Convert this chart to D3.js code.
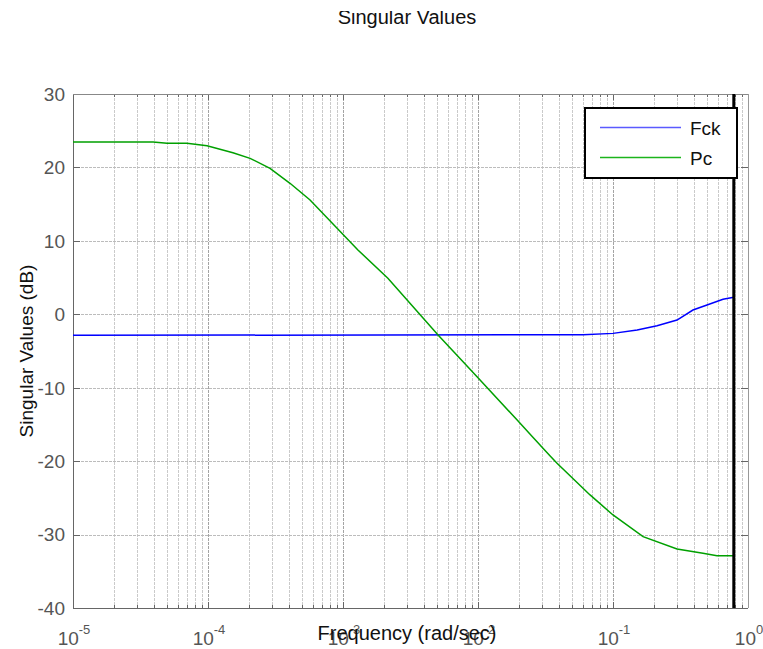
<!DOCTYPE html>
<html>
<head>
<meta charset="utf-8">
<script src="https://cdn.jsdelivr.net/npm/d3@7"></script>
<style>
  body { margin: 0; background: #fff; }
  text { font-family: "Liberation Sans", Arial, sans-serif; }
</style>
</head>
<body>
<svg id="chart" width="763" height="649"></svg>
<script>
// series (frequency in rad/sec, value in dB)
const fckFreq = [1e-5, 0.06, 0.1, 0.151, 0.212, 0.298, 0.391, 0.497, 0.653, 0.785];
const fckDb = [-2.87, -2.78, -2.6, -2.14, -1.55, -0.78, 0.58, 1.27, 2.04, 2.31];

const pcFreq = [1e-5, 3.92e-5, 4.97e-5, 6.98e-5, 9.84e-5, 1.53e-4, 2.05e-4, 2.88e-4, 4.05e-4, 5.7e-4,
    1.29e-3, 2.15e-3, 5.06e-3, 9.84e-3, 1.95e-2, 2.55e-2, 3.41e-2, 3.85e-2, 6.76e-2, 0.1, 0.167, 0.298, 0.464, 0.589, 0.785];
const pcDb = [23.46, 23.46, 23.29, 23.29, 22.96, 22.0, 21.24, 19.88, 17.84, 15.56,
    8.76, 4.9, -2.82, -8.5, -14.4, -16.75, -19.25, -20.3, -24.6, -27.33, -30.29, -31.96, -32.55, -32.87, -32.87];

const seriesNames = ['Fck', 'Pc'];
const seriesColors = ['#0000ff', '#00a000'];
const legendColors = ['#5a5aff', '#1cb41c'];

const yTicks = [30, 20, 10, 0, -10, -20, -30, -40];
const xDecades = [-5, -4, -3, -2, -1, 0];
const nyquist = 0.785;

const margin = { left: 73, top: 94, right: 15, bottom: 41 };
const W = 763, H = 649;
const iw = W - margin.left - margin.right;
const ih = H - margin.top - margin.bottom;

const svg = d3.select('#chart');

const x = d3.scaleLog().domain([1e-5, 1]).range([0, iw]);
const y = d3.scaleLinear().domain([-40, 30]).range([ih, 0]);

// title, clipped at the top like the original
svg.append('clipPath').attr('id', 'titleclip')
    .append('rect').attr('x', 0).attr('y', 11).attr('width', W).attr('height', 40);
svg.append('text').attr('x', 407).attr('y', 24).attr('text-anchor', 'middle')
    .attr('clip-path', 'url(#titleclip)')
    .style('font-size', '20px').attr('fill', '#111').text('Singular Values');

const g = svg.append('g').attr('transform', `translate(${margin.left},${margin.top})`);

// grid
let minors = [];
xDecades.forEach(k => {
    for (let m = 1; m <= 9; m++) {
        const v = m * Math.pow(10, k);
        if (v <= 1) minors.push({ v: v, major: m === 1 });
    }
});

g.selectAll('.vgrid').data(minors).enter().append('line')
    .attr('class', 'vgrid')
    .attr('x1', d => Math.round(x(d.v)) + 0.5).attr('x2', d => Math.round(x(d.v)) + 0.5)
    .attr('y1', 0).attr('y2', ih)
    .attr('stroke', d => d.major ? '#a4a4a4' : '#cacaca')
    .attr('stroke-width', 1)
    .attr('stroke-dasharray', '3,1');

g.selectAll('.hgrid').data(yTicks).enter().append('line')
    .attr('class', 'hgrid')
    .attr('x1', 0).attr('x2', iw)
    .attr('y1', d => Math.round(y(d)) + 0.5).attr('y2', d => Math.round(y(d)) + 0.5)
    .attr('stroke', '#bcbcbc').attr('stroke-dasharray', '3,1');

// ticks (inward, top and bottom / left and right)
const tickLen = d => d.major ? 6 : 3;
g.selectAll('.xtb').data(minors).enter().append('line')
    .attr('x1', d => Math.round(x(d.v)) + 0.5).attr('x2', d => Math.round(x(d.v)) + 0.5)
    .attr('y1', ih).attr('y2', d => ih - tickLen(d))
    .attr('stroke', '#666');
g.selectAll('.xtt').data(minors).enter().append('line')
    .attr('x1', d => Math.round(x(d.v)) + 0.5).attr('x2', d => Math.round(x(d.v)) + 0.5)
    .attr('y1', 0).attr('y2', d => tickLen(d))
    .attr('stroke', '#666');
g.selectAll('.ytl').data(yTicks).enter().append('line')
    .attr('x1', 0).attr('x2', 7)
    .attr('y1', d => Math.round(y(d)) + 0.5).attr('y2', d => Math.round(y(d)) + 0.5)
    .attr('stroke', '#666');
g.selectAll('.ytr').data(yTicks).enter().append('line')
    .attr('x1', iw).attr('x2', iw - 7)
    .attr('y1', d => Math.round(y(d)) + 0.5).attr('y2', d => Math.round(y(d)) + 0.5)
    .attr('stroke', '#666');

// axes box
g.append('line').attr('x1', 0.5).attr('x2', 0.5).attr('y1', 0).attr('y2', ih).attr('stroke', '#666');
g.append('line').attr('x1', 0).attr('x2', iw).attr('y1', ih + 0.5).attr('y2', ih + 0.5).attr('stroke', '#666');
g.append('line').attr('x1', 0).attr('x2', iw).attr('y1', 0.5).attr('y2', 0.5).attr('stroke', '#888');
g.append('line').attr('x1', iw + 0.5).attr('x2', iw + 0.5).attr('y1', 0).attr('y2', ih).attr('stroke', '#999');

// tick labels
g.selectAll('.ylab').data(yTicks).enter().append('text')
    .attr('x', -8).attr('y', d => y(d)).attr('dy', '0.36em')
    .attr('text-anchor', 'end').style('font-size', '19px').attr('fill', '#555')
    .text(d => d);

const xl = g.selectAll('.xlab').data(xDecades).enter().append('text')
    .attr('x', d => x(Math.pow(10, d)) + 1).attr('y', ih + 37)
    .attr('text-anchor', 'middle').style('font-size', '19px').attr('fill', '#555');
xl.append('tspan').text('10');
xl.append('tspan').attr('dy', -11).style('font-size', '13px').text(d => d);

// axis labels
svg.append('text').attr('x', 407).attr('y', 640).attr('text-anchor', 'middle')
    .style('font-size', '20px').attr('fill', '#111').text('Frequency (rad/sec)');
svg.append('text').attr('transform', 'translate(33,351) rotate(-90)')
    .attr('text-anchor', 'middle').style('font-size', '19px').attr('fill', '#111')
    .text('Singular Values (dB)');

// curves
const line = d3.line().x(d => x(d[0])).y(d => y(d[1]));
const series = [d3.zip(fckFreq, fckDb), d3.zip(pcFreq, pcDb)];

g.selectAll('.curve').data(series).enter().append('path')
    .attr('class', 'curve')
    .attr('d', line)
    .attr('fill', 'none')
    .attr('stroke', (d, i) => seriesColors[i])
    .attr('stroke-width', 1.5);

// nyquist marker
g.append('line')
    .attr('x1', x(nyquist)).attr('x2', x(nyquist))
    .attr('y1', 0).attr('y2', ih)
    .attr('stroke', '#000').attr('stroke-width', 3);

// legend
const lg = svg.append('g').attr('transform', 'translate(585,108)');
lg.append('rect').attr('width', 152).attr('height', 70)
    .attr('fill', '#fff').attr('stroke', '#000').attr('stroke-width', 2);

seriesNames.forEach((name, i) => {
    const ly = 19.5 + i * 30;
    lg.append('line').attr('x1', 15).attr('x2', 96).attr('y1', ly).attr('y2', ly)
        .style('stroke', legendColors[i]).style('stroke-width', 1.5);
    lg.append('text').attr('x', 105).attr('y', ly + 7).style('font-size', '19px')
        .attr('fill', '#111').text(name);
});
</script>
</body>
</html>
